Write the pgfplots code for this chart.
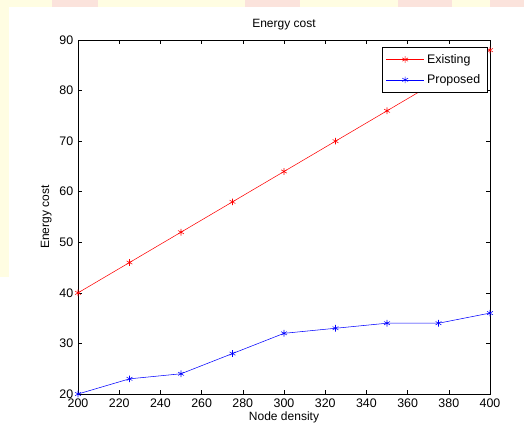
\documentclass[border=0pt]{standalone}
\usepackage{pgfplots}
\pgfplotsset{compat=1.18}
\usepackage{fontspec}
\setmainfont{Liberation Sans}
\definecolor{bgyel}{HTML}{FFFDE2}
\definecolor{bgpink}{HTML}{FBE3DC}
\pgfplotstableread{
x y
200 40
225 46
250 52
275 58
300 64
325 70
350 76
375 82
400 88
}\existing
\pgfplotstableread{
x y
200 20
225 23
250 24
275 28
300 32
325 33
350 34
375 34
400 36
}\proposed
\begin{document}
\begin{tikzpicture}
\useasboundingbox (0pt,0pt) rectangle (393pt,322.5pt);
\fill[white] (0pt,0pt) rectangle (393pt,322.5pt);
\fill[bgyel] (0pt,317.25pt) rectangle (393pt,322.5pt);
\fill[bgyel] (0pt,114.75pt) rectangle (6.75pt,322.5pt);
\fill[bgpink] (39pt,317.25pt) rectangle (73.5pt,322.5pt);
\fill[bgpink] (183.75pt,317.25pt) rectangle (225pt,322.5pt);
\fill[bgpink] (298.5pt,317.25pt) rectangle (339pt,322.5pt);
\fill[bgpink] (367.5pt,317.25pt) rectangle (393pt,322.5pt);
\begin{axis}[
  at={(58.5pt,27pt)}, anchor=south west,
  scale only axis, width=309pt, height=265.5pt,
  xmin=200, xmax=400, ymin=20, ymax=90,
  xtick={200,220,...,400}, ytick={20,30,...,90},
  tick align=inside, major tick length=3pt,
  tick style={black, thin},
  axis line style={black, thin},
  font=\fontsize{9}{10}\selectfont,
  tick label style={font=\fontsize{9.3}{10}\selectfont},
  /pgf/number format/assume math mode=true,
  title={Energy cost}, title style={yshift=-2pt},
  xlabel={Node density}, ylabel={Energy cost},
  xlabel style={yshift=4pt}, ylabel style={yshift=-1pt},
  legend style={at={(0.993,0.98)}, anchor=north east, draw=black, thin,
    font=\fontsize{9.3}{11}\selectfont, inner xsep=3pt, inner ysep=3pt,
    row sep=3pt},
  legend cell align=left,
  legend image code/.code={
    \draw[#1, mark=none] (0cm,0cm) -- (1cm,0cm);
    \draw[#1, only marks] plot coordinates {(0.5cm,0cm)};
  },
]
\addplot[red, thin, mark=asterisk, mark size=2.5pt, mark options={solid}] table {\existing};
\addlegendentry{Existing}
\addplot[blue, thin, mark=asterisk, mark size=2.5pt, mark options={solid}] table {\proposed};
\addlegendentry{Proposed}
\end{axis}
\end{tikzpicture}
\end{document}
